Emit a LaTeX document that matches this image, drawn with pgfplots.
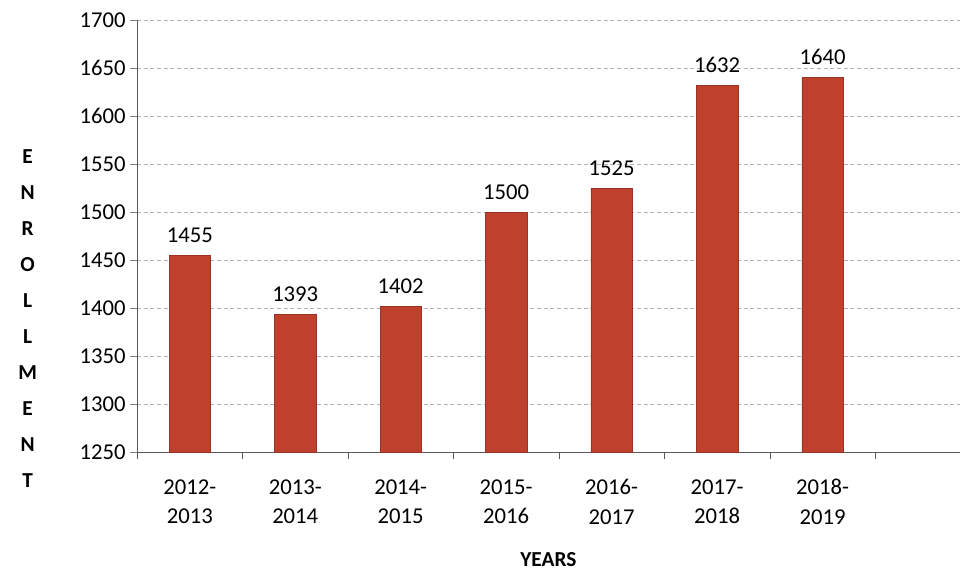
\documentclass[border=0pt]{standalone}
\usepackage{pgfplots}
\pgfplotsset{compat=1.18}
\usepackage{fontspec}
\setmainfont{Carlito}
\definecolor{barred}{HTML}{C0402E}
\begin{document}
\begin{tikzpicture}
\begin{axis}[
  scale only axis, width=617pt, height=324pt,
  ymin=1250, ymax=1700, ytick distance=50,
  xmin=-0.5, xmax=7.3,
  axis x line=bottom, axis y line=left,
  axis line style={-, gray!70!black},
  xtick={0,...,6},
  xticklabels={{2012-\\2013},{2013-\\2014},{2014-\\2015},{2015-\\2016},{2016-\\2017},{2017-\\2018},{2018-\\2019}},
  x tick label style={align=center, font=\fontsize{17}{22}\selectfont, yshift=-12pt},
  y tick label style={font=\fontsize{17}{19}\selectfont},
  /pgf/number format/assume math mode=true,
  /pgf/number format/1000 sep={},
  major x tick style={draw=none},
  minor xtick={-0.5,0.5,...,7.5},
  minor x tick style={gray!70!black},
  tick align=outside, major tick length=5pt, minor tick length=5pt,
  ymajorgrids, grid style={gray!60, densely dashed},
  ybar, bar width=31pt,
  nodes near coords, every node near coord/.append style={font=\fontsize{17}{19}\selectfont, /pgf/number format/1000 sep={}, yshift=6pt},
  xlabel={\textbf{YEARS}}, xlabel style={font=\fontsize{16}{18}\selectfont, yshift=-14pt},
  clip=false,
]
\addplot[fill=barred, draw=barred!80!black] coordinates {(0,1455) (1,1393) (2,1402) (3,1500) (4,1525) (5,1632) (6,1640)};
\coordinate (bl) at (rel axis cs:0,0);
\coordinate (tr) at (rel axis cs:1,1);
\end{axis}
\node[align=center, font=\bfseries\fontsize{16}{27}\selectfont] at ([xshift=-82pt]bl) [anchor=south, yshift=-30pt] {E\\N\\R\\O\\L\\L\\M\\E\\N\\T};
\useasboundingbox ([xshift=-102.75pt,yshift=-86.25pt]bl) rectangle ([yshift=15pt]tr);
\end{tikzpicture}
\end{document}
